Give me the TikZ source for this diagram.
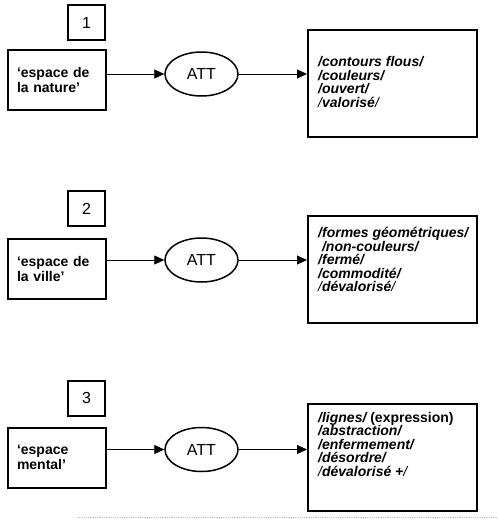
\documentclass[tikz,border=0pt]{standalone}
\usepackage{fontspec}
\setmainfont{Liberation Sans}
\usetikzlibrary{arrows.meta,shapes.geometric}
\begin{document}
\begin{tikzpicture}[x=1pt,y=-1pt,
  numbox/.style={draw,line width=2pt,minimum width=37pt,minimum height=35pt,inner sep=0pt,font=\fontsize{16}{18}\selectfont},
  lbox/.style={draw,line width=2pt,minimum width=98pt,minimum height=60pt,text width=80pt,inner xsep=9pt,inner ysep=0pt,align=left,font=\fontsize{14}{15}\selectfont\bfseries},
  att/.style={draw,ellipse,line width=1.5pt,minimum width=73pt,minimum height=44pt,inner sep=0pt,font=\fontsize{16}{18}\selectfont},
  rbox/.style={draw,line width=2pt,minimum width=169pt,minimum height=107pt,inner sep=0pt},
  rtext/.style={anchor=west,inner sep=0pt,align=left,font=\fontsize{14}{13.5}\selectfont\bfseries\itshape},
  conn/.style={line width=0.9pt,-{Triangle[length=10pt,width=9pt]}}
]
\useasboundingbox (0,0) rectangle (500,520);
% Section 1
\node[numbox] (n1) at (86.5,22.5) {1};
\node[lbox] (l1) at (57,80) {‘espace de\\la nature’};
\node[att] (a1) at (201.5,74) {ATT};
\node[rbox] (r1) at (392.5,83) {};
\node[rtext] (t1) at (318,82) {/contours flous/\\/couleurs/\\/ouvert/\\{\mdseries/}valorisé{\mdseries/}};
\draw[conn] (l1.east |- a1.west) -- (a1.west);
\draw[conn] (a1.east) -- (r1.west |- a1.east);
% Section 2
\node[numbox] (n2) at (86.5,208.5) {2};
\node[lbox] (l2) at (57,268.5) {‘espace de\\la ville’};
\node[att] (a2) at (201.5,260) {ATT};
\node[rbox] (r2) at (392.5,269) {};
\node[rtext] (t2) at (318,259.5) {/formes géométriques/\\\ /non-couleurs/\\/fermé/\\/commodité/\\{\mdseries/}dévalorisé{\mdseries/}};
\draw[conn] (l2.east |- a2.west) -- (a2.west);
\draw[conn] (a2.east) -- (r2.west |- a2.east);
% Section 3
\node[numbox] (n3) at (86.5,398) {3};
\node[lbox] (l3) at (57,457.5) {‘espace\\mental’};
\node[att] (a3) at (201.5,449.5) {ATT};
\node[rbox] (r3) at (392.5,457.5) {};
\node[rtext] (t3) at (318,444) {/lignes/ {\upshape (expression)}\\/abstraction/\\/enfermement/\\/désordre/\\{\mdseries/}dévalorisé +{\mdseries/}};
\draw[conn] (l3.east |- a3.west) -- (a3.west);
\draw[conn] (a3.east) -- (r3.west |- a3.east);
% separator
\coordinate (s1) at (77,517);
\coordinate (s2) at (497,517);
\draw[gray!50,densely dotted,line width=0.8pt] (s1) -- (s2);
\end{tikzpicture}
\end{document}
